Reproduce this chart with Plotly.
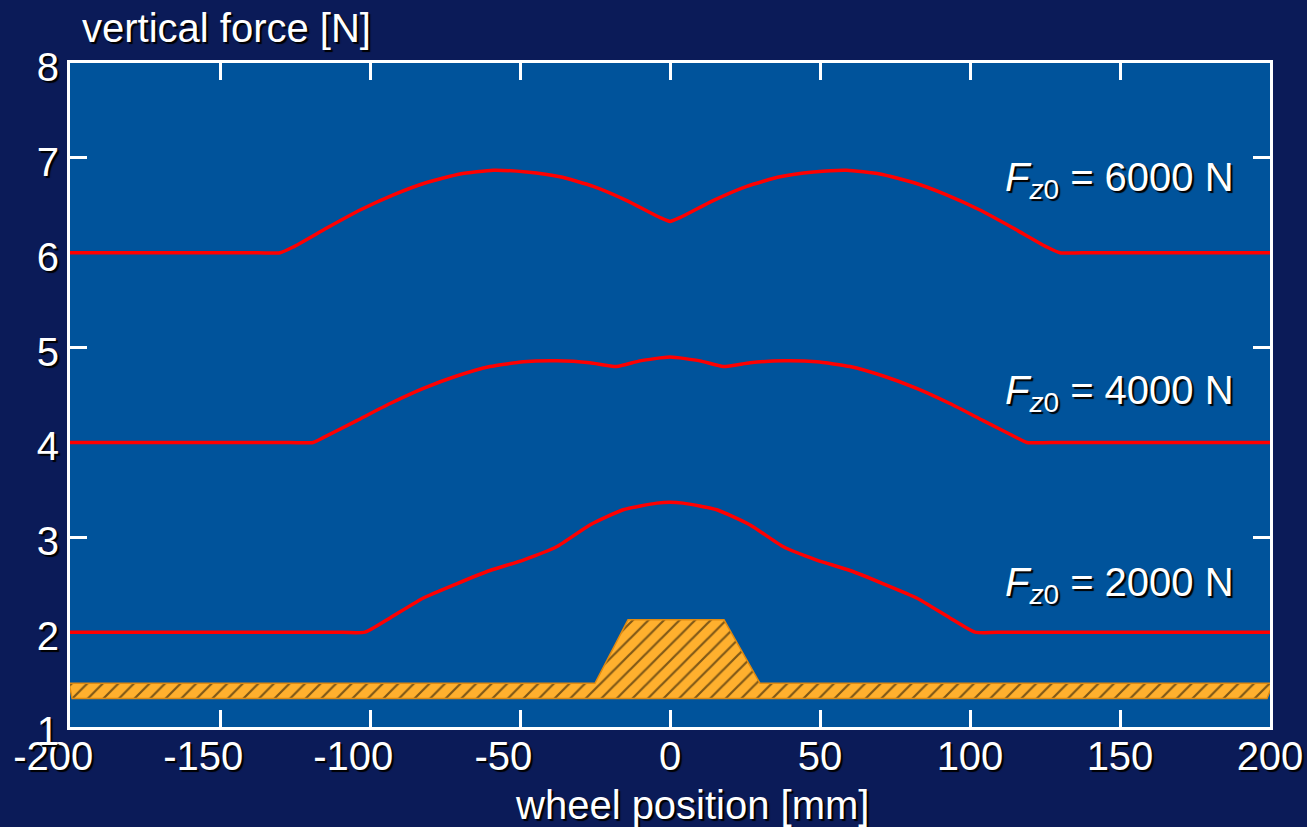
import plotly.graph_objects as go

# Wheel position [mm] and vertical force [N], left half incl. centre; curves are symmetric
half_pos_6000 = [-200, -165, -140, -130, -125.6, -114.4, -103.3, -92.2, -81.1, -70, -58.9,
                 -47.8, -36.7, -25.6, -14.4, -3.3, 0]
half_force_6000 = [6.00, 6.00, 6.00, 6.00, 6.06, 6.26, 6.45, 6.61, 6.74, 6.83, 6.87,
                   6.85, 6.80, 6.70, 6.55, 6.37, 6.33]

half_pos_4000 = [-200, -160, -130, -119, -115.6, -104.4, -93.3, -82.2, -71.1, -60, -48.9,
                 -37.8, -26.7, -17.8, -10, 0]
half_force_4000 = [4.00, 4.00, 4.00, 4.00, 4.05, 4.23, 4.41, 4.57, 4.70, 4.80, 4.85,
                   4.86, 4.84, 4.80, 4.86, 4.90]

half_pos_2000 = [-200, -150, -112, -101.7, -93.3, -82.2, -71.1, -60, -48.9, -37.8,
                 -26.7, -15.6, -4.4, 0]
half_force_2000 = [2.00, 2.00, 2.00, 2.00, 2.15, 2.36, 2.51, 2.65, 2.76, 2.90,
                   3.13, 3.29, 3.36, 3.37]


def mirrored(xs, ys):
    """Complete a symmetric curve from its left half (last point is x = 0)."""
    return (xs + [-v for v in reversed(xs[:-1])],
            ys + list(reversed(ys[:-1])))


load_labels = ["<i>F</i><sub><i>z</i>0</sub> = 6000 N",
               "<i>F</i><sub><i>z</i>0</sub> = 4000 N",
               "<i>F</i><sub><i>z</i>0</sub> = 2000 N"]
label_y = [6.77, 4.52, 2.50]

# Road surface with the cleat (schematic profile)
road_x = [-200.3, -25, -14, 18, 30, 201, 199, -199.3, -200.3]
road_y = [1.46, 1.46, 2.13, 2.13, 1.46, 1.46, 1.30, 1.30, 1.46]

x_ticks = [-200, -150, -100, -50, 0, 50, 100, 150, 200]
y_ticks = [1, 2, 3, 4, 5, 6, 7, 8]

BG_OUT = "#0b1b58"
BG_IN = "#00539b"
FONT = "Liberation Sans, Arial, sans-serif"
SHADOW = "2px 2px 1px #000"
FS = 40

# negative labels sit a little left of their ticks; trailing no-break spaces do that
x_ticktext = [f"-{abs(v)}&nbsp;&nbsp;&nbsp;" if v < 0 else str(v) for v in x_ticks]

fig = go.Figure()

fig.add_trace(go.Scatter(
    x=road_x, y=road_y, mode="lines", fill="toself",
    fillcolor="#ffb02e",
    line=dict(color="#e08a10", width=1.5),
    fillpattern=dict(shape="/", fgcolor="#000000", bgcolor="#ffb02e",
                     size=11, solidity=0.2),
    hoverinfo="skip", cliponaxis=False,
))

for hx, hy in [(half_pos_6000, half_force_6000),
               (half_pos_4000, half_force_4000),
               (half_pos_2000, half_force_2000)]:
    xs, ys = mirrored(hx, hy)
    fig.add_trace(go.Scatter(x=xs, y=ys, mode="lines",
                             line=dict(color="#ff0000", width=3.5, shape="spline", smoothing=0.5)))

for txt, yv in zip(load_labels, label_y):
    fig.add_annotation(x=188.5, y=yv, text=txt, showarrow=False, xanchor="right",
                       font=dict(size=FS, color="white", family=FONT, shadow=SHADOW))

fig.add_annotation(xref="paper", yref="paper", x=0.0083, y=1.0, yshift=35,
                   text="vertical force [N]", showarrow=False, xanchor="left", yanchor="middle",
                   font=dict(size=FS, color="white", family=FONT, shadow=SHADOW))
fig.add_annotation(xref="paper", yref="paper", x=0.518, y=0, yshift=-78,
                   text="wheel position [mm]", showarrow=False, xanchor="center", yanchor="middle",
                   font=dict(size=FS, color="white", family=FONT, shadow=SHADOW))

axis_common = dict(showgrid=False, zeroline=False, showline=True, linecolor="white",
                   linewidth=3, mirror="ticks", ticks="inside", tickcolor="white",
                   tickwidth=3, ticklen=17, automargin=False, layer="below traces",
                   tickfont=dict(size=FS, color="white", family=FONT, shadow=SHADOW))

fig.update_layout(
    width=1307, height=827,
    margin=dict(l=70, r=37, t=63, b=100),
    paper_bgcolor=BG_OUT, plot_bgcolor=BG_IN,
    showlegend=False,
    xaxis=dict(range=[-200, 200], tickvals=x_ticks, ticktext=x_ticktext,
               ticklabelstandoff=-8, **axis_common),
    yaxis=dict(range=[1, 8], tickvals=y_ticks, ticklabelshift=4, **axis_common),
)

fig.write_html("out.html")
